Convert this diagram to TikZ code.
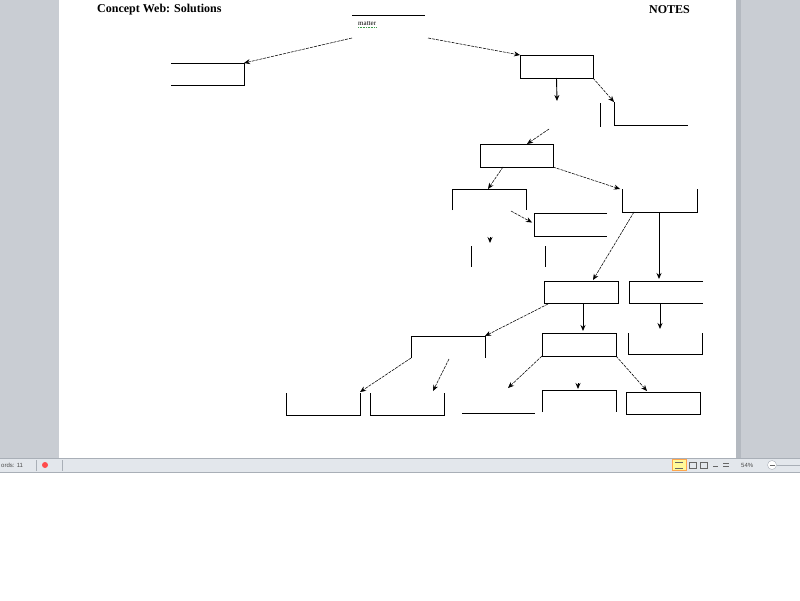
\documentclass[tikz,border=0pt]{standalone}
\usepackage{fontspec}
\setmainfont{Liberation Serif}
\newfontfamily\uifont{Liberation Sans}
\usetikzlibrary{arrows.meta,positioning,calc}
\definecolor{wordgray}{HTML}{C9CDD3}
\definecolor{wordshade}{HTML}{B4B9C0}
\definecolor{barfill}{HTML}{E3E7EC}
\definecolor{barline}{HTML}{A9AFB7}
\definecolor{grammar}{HTML}{3C9A4A}
\tikzset{
  blank/.style={rectangle, anchor=north west, minimum width=74pt, minimum height=23pt, inner sep=0pt, outer sep=0pt},
  side/.style={line width=0.95pt, black},
  link/.style={line width=0.55pt, dash pattern=on 3pt off 1pt, -{Stealth[length=6pt,width=5pt]}},
  down/.style={line width=0.9pt, -{Stealth[length=6pt,width=5pt]}},
  heading/.style={font=\bfseries\fontsize{12}{13}\selectfont, inner sep=0pt},
  uitext/.style={font=\uifont\fontsize{6}{7}\selectfont, text=black!70, inner sep=0pt},
}

\begin{document}
\begin{tikzpicture}[x=1pt, y=-1pt]
  \useasboundingbox (0,0) rectangle (800,600);
  % window around the page
  \fill[wordgray] (0,0) rectangle (800,458);
  \fill[wordshade] (736,0) rectangle (741,458);
  \fill[white] (59,0) rectangle (736,458);
  \fill[barfill] (0,458) rectangle (800,472);
  \draw[barline] (0,458) -- (800,458);
  \draw[barline] (0,472) -- (800,472);
  \draw[barline] (36,460) -- (36,471);
  \draw[barline] (62,460) -- (62,471);
  \node[uitext, anchor=west] (words) at (1,465) {ords: 11};
  \node[uitext, anchor=west] (zoomval) at (741,465) {54\%};
  \draw[barline, fill=white] (772,465) circle (4.5);
  \draw[black!60] (769.5,465) -- (774.5,465);
  \draw[barline] (777,465) -- (800,465);
  \draw[orange!70, fill=yellow!40] (672,459.5) rectangle (686,470.5);
  \draw[black!60, line width=0.6pt] (675,462) -- (683,462) (675,468) -- (683,468);
  \draw[black!60] (689,462) rectangle (696,468) (700,462) rectangle (707,468);
  \draw[black!60] (713,466) -- (718,466) (723,463) -- (729,463) (723,466) -- (729,466);
  \fill[red!70] (45,465) circle (3);

  % headings
  \node[heading, anchor=west] (title) at (97,10) {Concept Web: Solutions};
  \node[heading, anchor=east] (notes) at (690,10) {NOTES};

  % concept slots
  \node[blank, minimum width=73pt] (topic) at (352,15) {};
  \node[blank, minimum width=73pt, minimum height=22pt] (left1) at (171,63) {};
  \node[blank, minimum width=73pt] (right1) at (520,55) {};
  \node[blank] (right2) at (614,102) {};
  \node[blank, minimum height=24pt] (right3) at (526,103) {};
  \node[blank, minimum width=73pt] (mid1) at (480,144) {};
  \node[blank, minimum height=21pt] (mid2a) at (452,189) {};
  \node[blank, minimum width=75pt] (mid2b) at (622,189) {};
  \node[blank, minimum width=73pt] (mid3) at (534,213) {};
  \node[blank, minimum height=21pt] (mid4) at (471,246) {};
  \node[blank, minimum height=22pt] (low1) at (544,281) {};
  \node[blank, minimum height=22pt] (low2) at (629,281) {};
  \node[blank] (low3) at (542,333) {};
  \node[blank, minimum height=21pt] (low4) at (628,333) {};
  \node[blank, minimum height=22pt] (low0) at (411,336) {};
  \node[blank, minimum height=22pt] (end1) at (286,393) {};
  \node[blank, minimum height=22pt] (end2) at (370,393) {};
  \node[blank, minimum width=73pt, minimum height=22pt] (end3) at (462,391) {};
  \node[blank, minimum height=22pt] (end4) at (542,390) {};
  \node[blank, minimum height=22pt] (end5) at (626,392) {};

  % visible sides of each slot
  \draw[side] (topic.north west) -- (topic.north east);
  \draw[side] (left1.north west) -- (left1.north east) -- (left1.south east) -- (left1.south west);
  \draw[side] (right1.north west) rectangle (right1.south east);
  \draw[side] (right2.north west) -- (right2.south west) -- (right2.south east);
  \draw[side] (right3.north east) -- (right3.south east);
  \draw[side] (mid1.north west) rectangle (mid1.south east);
  \draw[side] (mid2a.south west) -- (mid2a.north west) -- (mid2a.north east) -- (mid2a.south east);
  \draw[side] (mid2b.north west) -- (mid2b.south west) -- (mid2b.south east) -- (mid2b.north east);
  \draw[side] (mid3.north east) -- (mid3.north west) -- (mid3.south west) -- (mid3.south east);
  \draw[side] (mid4.north west) -- (mid4.south west) (mid4.north east) -- (mid4.south east);
  \draw[side] (low1.north west) rectangle (low1.south east);
  \draw[side] (low2.north east) -- (low2.north west) -- (low2.south west) -- (low2.south east);
  \draw[side] (low3.north west) rectangle (low3.south east);
  \draw[side] (low4.north west) -- (low4.south west) -- (low4.south east) -- (low4.north east);
  \draw[side] (low0.south west) -- (low0.north west) -- (low0.north east) -- (low0.south east);
  \draw[side] (end1.north west) -- (end1.south west) -- (end1.south east) -- (end1.north east);
  \draw[side] (end2.north west) -- (end2.south west) -- (end2.south east) -- (end2.north east);
  \draw[side] (end3.south west) -- (end3.south east);
  \draw[side] (end4.south west) -- (end4.north west) -- (end4.north east) -- (end4.south east);
  \draw[side] (end5.north west) rectangle (end5.south east);

  % topic word
  \node[font=\fontsize{7}{8}\selectfont, anchor=west, inner sep=0pt] (topicword) at (358,24) {matter};
  \draw[grammar, line width=0.5pt, dash pattern=on 0.8pt off 0.8pt] ($(topicword.south west)+(0,1.2)$) -- ($(topicword.south east)+(0,1.2)$);

  % free ends
  \coordinate (r1end) at (557,101);
  \coordinate (m1start) at (549,129);
  \coordinate (m3start) at (511,211);
  \coordinate (m4top) at (490,237);
  \coordinate (m4tip) at (490,243);
  \coordinate (e2start) at (449,359);
  \coordinate (l3end) at (508,388);
  \coordinate (e4top) at (578,383);
  \coordinate (e4tip) at (578,389);

  % connectors
  \draw[link] (topic.south west) -- (left1.north east);
  \draw[link] (topic.south east) ++(3,0) -- (right1.north west);
  \draw[down] ($(right1.south west)!0.5!(right1.south east)$) -- (r1end);
  \draw[link] (right1.south east) -- (right2.north west);
  \draw[link] (m1start) -- ($(mid1.north west)+(47,0)$);
  \draw[link] ($(mid1.south west)+(23,0)$) -- ($(mid2a.north west)+(36,0)$);
  \draw[link] (mid1.south east) -- ($(mid2b.north west)+(-2,0)$);
  \draw[link] (m3start) -- ($(mid3.west)+(-2,-2)$);
  \draw[down] (m4top) -- (m4tip);
  \draw[link] ($(mid2b.south west)+(12,0)$) -- ($(low1.north west)+(49,-1)$);
  \draw[down] ($(mid2b.south west)+(37,0)$) -- ($(low2.north west)+(30,-2)$);
  \draw[down] ($(low1.south west)+(39,0)$) -- ($(low3.north west)+(41,-2)$);
  \draw[down] ($(low2.south west)+(31,0)$) -- ($(low4.north west)+(32,-4)$);
  \draw[link] ($(low1.south west)+(4,1)$) -- (low0.north east);
  \draw[link] (low0.south west) -- ($(end1.north east)+(0,-1)$);
  \draw[link] (e2start) -- ($(end2.north west)+(63,-2)$);
  \draw[link] (low3.south west) -- (l3end);
  \draw[link] (low3.south east) -- ($(end5.north west)+(21,-1)$);
  \draw[down] (e4top) -- (e4tip);
\end{tikzpicture}
\end{document}
